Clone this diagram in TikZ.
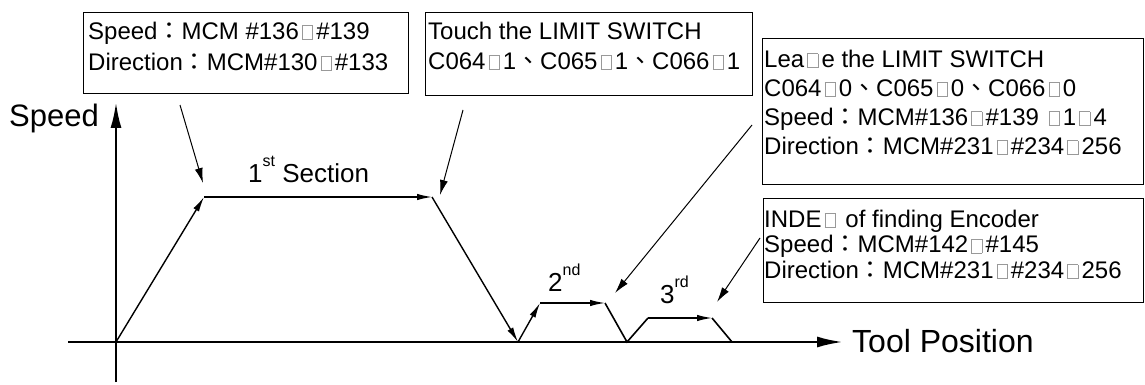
\documentclass[tikz,border=0pt]{standalone}
\usepackage{fontspec}
\usepackage{graphicx}
\setmainfont{Liberation Sans}
\newfontfamily\cjk{Noto Sans CJK TC}
\usetikzlibrary{arrows.meta}
\newcommand\colonx{{\cjk ：}}
\newcommand\commax{{\cjk 、}}
\newcommand\tofu{\makebox[0.72em]{\textcolor{black!40}{\setlength\fboxsep{0pt}\setlength\fboxrule{0.7pt}\fbox{\rule{0pt}{0.55em}\hspace{0.4em}}}}}
\newcommand\sups[1]{\raisebox{0.6em}{\fontsize{16}{16}\selectfont #1}}
\begin{document}
\begin{tikzpicture}[x=1pt,y=-1pt,
  boxframe/.style={draw, line width=1.4pt, inner sep=0pt, anchor=north west},
  boxtext/.style={inner sep=0pt, anchor=north west, align=left, font=\fontsize{24}{24}\selectfont},
  axis/.style={line width=2.6pt, -{Latex[length=26pt,width=11pt]}},
  prof/.style={line width=1.4pt, -{Latex[length=15pt,width=6.5pt]}},
  profplain/.style={line width=1.6pt},
  note/.style={line width=1pt, -{Latex[length=15pt,width=8pt]}},
  lbl/.style={inner sep=0pt, anchor=base west}]
\useasboundingbox (0,0) rectangle (1145,385);
% axes
\coordinate (yb) at (116,382);
\coordinate (yt) at (116,102);
\coordinate (xl) at (68,342);
\coordinate (xr) at (843,342);
\draw[axis] (yb) -- (yt);
\draw[axis] (xl) -- (xr);
\node[lbl, font=\fontsize{31}{31}\selectfont] (speedlbl) at (9,127) {Speed};
\node[lbl, font=\fontsize{32}{32}\selectfont] (toollbl) at (852,352) {Tool Position};
% profile
\coordinate (p0) at (116,342);
\coordinate (p1) at (204,197);
\coordinate (p2) at (432,197);
\coordinate (p3) at (518,342);
\coordinate (p4) at (540,303);
\coordinate (p5) at (605,303);
\coordinate (p6) at (627,342);
\coordinate (p7) at (648,318);
\coordinate (p8) at (712,318);
\coordinate (p9) at (732,342);
\draw[prof] (p0) -- (p1);
\draw[prof] (p1) -- (p2);
\draw[prof] (p2) -- (p3);
\draw[prof] (p3) -- (p4);
\draw[prof] (p4) -- (p5);
\draw[profplain] (p5) -- (p6) -- (p7);
\draw[prof] (p7) -- (p8);
\draw[profplain] (p8) -- (p9);
% section labels
\node[lbl, font=\fontsize{26}{26}\selectfont] (s1) at (248,182) {1\sups{st} Section};
\node[lbl, font=\fontsize{26}{26}\selectfont] (s2) at (548,291) {2\sups{nd}};
\node[lbl, font=\fontsize{26}{26}\selectfont] (s3) at (660,303) {3\sups{rd}};
% boxes
\node[boxframe, minimum width=325pt, minimum height=81pt] (b1) at (83,12) {};
\node[boxtext] (t1) at (88,12) {\rule{0pt}{27pt}Speed\colonx MCM \#136\tofu\#139\\[7pt]Direction\colonx MCM\#130\tofu\#133};
\node[boxframe, minimum width=327pt, minimum height=83pt] (b2) at (425,12) {};
\node[boxtext] (t2) at (428,12) {\rule{0pt}{27pt}Touch the LIMIT SWITCH\\[6pt]C064\tofu1\commax C065\tofu1\commax C066\tofu1};
\node[boxframe, minimum width=381pt, minimum height=146pt] (b3) at (762,38) {};
\node[boxtext] (t3) at (764,38) {\rule{0pt}{29pt}Lea\tofu e the LIMIT SWITCH\\[5pt]C064\tofu0\commax C065\tofu0\commax C066\tofu0\\[5pt]Speed\colonx MCM\#136\tofu\#139 \tofu1\tofu4\\[5pt]Direction\colonx MCM\#231\tofu\#234\tofu256};
\node[boxframe, minimum width=380pt, minimum height=104pt] (b4) at (763,198) {};
\node[boxtext] (t4) at (764,198) {\rule{0pt}{29pt}INDE\tofu\ of finding Encoder\\[1.5pt]Speed\colonx MCM\#142\tofu\#145\\[1.5pt]Direction\colonx MCM\#231\tofu\#234\tofu256};
% annotation arrows
\coordinate (a1s) at (180,105);
\coordinate (a1e) at (203,183);
\coordinate (a2s) at (463,110);
\coordinate (a2e) at (440,195);
\coordinate (a3s) at (752,125);
\coordinate (a3e) at (615,293);
\coordinate (a4s) at (760,238);
\coordinate (a4e) at (717,302);
\draw[note] (a1s) -- (a1e);
\draw[note] (a2s) -- (a2e);
\draw[note] (a3s) -- (a3e);
\draw[note] (a4s) -- (a4e);
\end{tikzpicture}
\end{document}
